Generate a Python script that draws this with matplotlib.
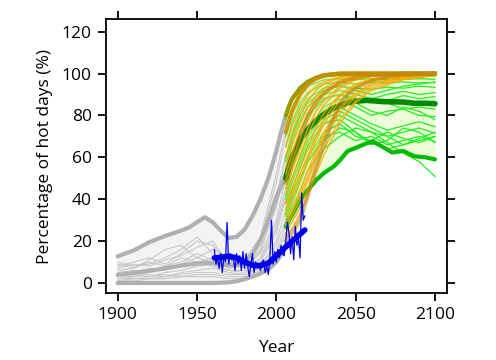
import numpy as np
import matplotlib
matplotlib.use("Agg")
import matplotlib.pyplot as plt

plt.rcParams["font.family"] = ["Open Sans", "DejaVu Sans"]

# ----------------------------------------------------------------------
# historical model ensemble (grey)
hist_env_years = [1900, 1910, 1920, 1930, 1940, 1945, 1950, 1955, 1960, 1965, 1970,
                  1975, 1980, 1985, 1990, 1995, 2000, 2003, 2006]
hist_upper = [12.7, 15.5, 19.5, 22.5, 25, 26.5, 29, 31.4, 29, 25, 21.5,
              22, 25.5, 32, 40, 50, 63, 72, 80]
hist_median = [3.8, 4.8, 5.8, 7, 8.3, 8.8, 9.3, 9.5, 9.6, 9.0, 8.5,
               8.5, 10, 14, 20.5, 30, 41, 46, 52]
hist_lower = [0, 0, 0, 0, 0, 0, 0, 0, 0, 0.1, 0.3,
              0.8, 1.8, 3, 4.5, 6.5, 10, 13.5, 18]

hist_years = [1900, 1910, 1920, 1930, 1940, 1950, 1960, 1970, 1980, 1990, 2000, 2006]
hist_models = [
    [10, 8, 9, 12, 16, 22, 14, 8, 9, 18, 42, 60],
    [8, 10, 12, 9, 14, 20, 18, 10, 9, 16, 36, 55],
    [6, 7, 11, 16, 18, 12, 10, 9, 10, 20, 48, 70],
    [5, 6, 5, 8, 10, 14, 11, 7, 8, 14, 30, 50],
    [4, 5, 7, 6, 9, 12, 16, 12, 7, 12, 28, 45],
    [3, 4, 3, 5, 6, 8, 9, 6, 5, 10, 24, 40],
    [2, 3, 4, 3, 5, 6, 7, 5, 4, 8, 20, 35],
    [1, 2, 2, 3, 4, 5, 5, 4, 4, 7, 18, 30],
    [7, 9, 8, 11, 13, 17, 20, 9, 8, 15, 38, 62],
    [2, 2, 3, 4, 3, 4, 4, 3, 3, 6, 15, 27],
    [9, 7, 10, 8, 12, 10, 12, 10, 11, 22, 52, 74],
    [4, 3, 5, 7, 8, 10, 8, 6, 6, 11, 26, 42],
    [1, 1, 2, 2, 3, 3, 3, 2, 2, 5, 14, 24],
]

# ----------------------------------------------------------------------
# future scenario 1 (green)
green_env_years = [2006, 2008, 2010, 2015, 2020, 2025, 2030, 2036, 2040, 2045, 2050,
                   2057, 2061, 2067, 2073, 2080, 2087, 2094, 2100]
green_upper = [80, 84.5, 88, 93, 96, 98, 99.2, 99.7, 99.9, 100, 100,
               100, 100, 100, 100, 100, 100, 100, 100]
green_median = [50, 56, 60, 68.3, 73.5, 77.5, 80.5, 83.5, 84.5, 86, 86.8,
                87.2, 87, 86.6, 86.5, 86.4, 85.8, 85.8, 85.6]
green_lower = [26.9, 30, 32.5, 39.6, 44.5, 49, 52.5, 55.5, 58.5, 63, 64.5,
               66.7, 67.5, 65, 62.3, 63, 60.5, 60, 59]

green_years = [2006, 2010, 2015, 2020, 2030, 2040, 2050, 2060, 2070, 2080, 2090, 2100]
green_models = [
    [78, 88, 94, 97, 98.5, 99, 99, 99, 98.8, 99, 98.8, 98.9],
    [70, 82, 90, 94, 97, 97.5, 97, 97.5, 97, 97.3, 97.5, 97.3],
    [65, 77, 86, 91, 95, 96, 95, 96, 95.5, 96, 95.5, 95.7],
    [60, 72, 82, 88, 93, 94, 93, 92.5, 93.5, 93, 94, 93.4],
    [55, 68, 78, 84, 90, 92, 90, 88, 90, 91.5, 90, 90.9],
    [50, 62, 72, 80, 88, 90, 88, 86, 87, 89.5, 88, 89],
    [45, 56, 66, 74, 84, 88, 84, 80, 82, 83, 80, 79.4],
    [40, 50, 60, 70, 80, 84, 80, 76, 73, 75, 77, 74.6],
    [35, 45, 55, 64, 76, 80, 76, 72, 70, 72, 74, 71.5],
    [32, 42, 52, 60, 72, 76, 70, 68, 72, 69, 67, 69.9],
    [28, 38, 48, 58, 70, 72, 68, 70, 66, 68, 70, 67.5],
    [30, 40, 50, 58, 68, 74, 72, 67, 64, 66, 69, 72],
    [26, 34, 44, 54, 64, 70, 74, 72, 67, 62, 58, 50.8],
    [38, 48, 58, 68, 78, 82, 78, 74, 70, 66, 68, 70],
    [48, 60, 72, 80, 88, 90, 86, 82, 80, 84, 82, 78],
    [42, 54, 66, 74, 82, 86, 88, 87, 86, 83, 84, 83],
    [58, 70, 80, 86, 92, 94, 92, 90, 92, 94, 95, 96],
    [33, 44, 56, 66, 76, 78, 72, 66, 68, 74, 72, 67],
]

# ----------------------------------------------------------------------
# future scenario 2 (orange)
orange_env_years = [2006, 2010, 2015, 2020, 2025, 2030, 2035, 2040, 2045, 2050,
                    2060, 2070, 2080, 2090, 2100]
orange_upper = [72, 82, 90, 95, 97.5, 99, 99.6, 100, 100, 100,
                100, 100, 100, 100, 100]
orange_median = [48, 58, 70, 80, 86.5, 90.5, 93.5, 95.5, 97, 98,
                  99.2, 99.7, 100, 100, 100]
orange_lower = [20, 24, 30, 42, 55, 66, 77, 85, 90, 93,
                96.5, 98.3, 99.3, 99.8, 100]

orange_years = [2006, 2010, 2015, 2020, 2025, 2030, 2040, 2050, 2060, 2080, 2100]
orange_models = [
    [75, 84, 91, 95, 97.5, 98.5, 99.5, 100, 100, 100, 100],
    [65, 75, 84, 90, 94, 96, 98.5, 99.5, 100, 100, 100],
    [55, 66, 76, 84, 89, 93, 97, 99, 99.5, 100, 100],
    [48, 58, 69, 78, 85, 90, 95.5, 98, 99, 100, 100],
    [42, 50, 61, 71, 79, 85, 93, 97, 98.5, 99.5, 100],
    [38, 45, 55, 65, 74, 81, 90, 95, 97.5, 99, 99.5],
    [33, 40, 49, 59, 68, 76, 87, 93, 96.5, 99, 99.5],
    [30, 36, 44, 54, 63, 72, 84, 91, 95, 98.5, 99.5],
    [27, 32, 40, 49, 59, 68, 81, 89, 94, 98, 99.5],
    [24, 29, 36, 45, 55, 64, 78, 87, 93, 97.5, 99],
    [52, 62, 73, 81, 87, 91, 96, 98.5, 99.5, 100, 100],
    [45, 54, 64, 74, 82, 87, 94, 97.5, 99, 99.5, 100],
    [36, 43, 52, 61, 70, 78, 89, 94, 97, 99, 99.5],
    [28, 34, 42, 51, 61, 70, 83, 90, 95, 98.5, 99.5],
    [60, 70, 80, 87, 92, 95, 98, 99.5, 100, 100, 100],
    [22, 26, 33, 42, 52, 61, 76, 86, 92, 97, 99],
]

# ----------------------------------------------------------------------
# observations (blue)
obs_years = list(range(1961, 2019))
obs_values = [16, 9, 12, 7, 14, 5, 13, 10, 29, 9, 14, 11, 12, 6, 14, 9, 13, 6, 15, 7,
              14, 8, 3, 9, 14, 5, 10, 7, 9, 6, 10, 11, 5, 8, 4, 12, 30, 9, 15, 10,
              16, 12, 18, 14, 13, 20, 29, 24, 14, 22, 11, 27, 18, 21, 12, 43, 30, 32]
obs_smooth_years = [1961, 1965, 1970, 1975, 1980, 1985, 1990, 1995, 2000, 2005,
                    2010, 2015, 2018]
obs_smooth = [12, 12.3, 12.8, 12, 10, 8.5, 8.3, 9.5, 13, 16.5, 20, 23.3, 25.3]

x_ticks = [1900, 1950, 2000, 2050, 2100]
y_ticks = [0, 20, 40, 60, 80, 100, 120]

# ----------------------------------------------------------------------
fig = plt.figure(figsize=(4.96, 3.6), dpi=100)
ax = fig.add_axes([0.213, 0.186, 0.688, 0.761])

# grey history
ax.fill_between(hist_env_years, hist_lower, hist_upper, color="#f3f3f3", lw=0, zorder=1)
for m in hist_models:
    ax.plot(hist_years, m, color="#c8c8c8", lw=0.8, zorder=2)
for band in (hist_upper, hist_lower, hist_median):
    ax.plot(hist_env_years, band, color="#b0b0b0", lw=3, zorder=3, solid_capstyle="round")

# green scenario
ax.fill_between(green_env_years, green_lower, green_upper, color="#ebfcd6", lw=0, zorder=1)
for m in green_models:
    ax.plot(green_years, m, color="#22ee22", lw=0.9, zorder=4)
ax.plot(green_env_years, green_lower, color="#00bb00", lw=3, zorder=6, solid_capstyle="round")
ax.plot(green_env_years, green_median, color="#008a00", lw=4, zorder=6, solid_capstyle="round")

# orange scenario
ax.fill_between(orange_env_years, orange_lower, orange_upper, color="#f0e48a", alpha=0.35,
                lw=0, zorder=5)
for m in orange_models:
    ax.plot(orange_years, m, color="#ffa500", lw=0.9, alpha=0.9, zorder=7)
ax.plot(green_env_years, green_upper, color="#9a9a00", lw=3, zorder=8, solid_capstyle="round")
ax.plot(orange_env_years, orange_lower, color="#b07d10", lw=3, alpha=0.5, zorder=8)
ax.plot(orange_env_years, orange_median, color="#b07d10", lw=3, alpha=0.5, zorder=8)
ax.plot(orange_env_years, orange_upper, color="#cc8a00", lw=3, alpha=0.8, zorder=9)

# observations
ax.plot(obs_years, obs_values, color="#0000ee", lw=0.9, zorder=10)
ax.plot(obs_smooth_years, obs_smooth, color="#0000ee", lw=4, zorder=11, solid_capstyle="round")

ax.set_xlim(1892.5, 2107.5)
ax.set_ylim(-4.8, 126)
ax.set_xticks(x_ticks)
ax.set_yticks(y_ticks)
ax.tick_params(direction="out", length=6, width=1.3, labelsize=12.5, pad=4,
               top=True, right=True, colors="black")
for s in ax.spines.values():
    s.set_linewidth(1.3)
ax.set_xlabel("Year", fontsize=12.5, labelpad=12)
ax.set_ylabel("Percentage of hot days (%)", fontsize=12.5, labelpad=6)

fig.savefig("out.png", dpi=100)
